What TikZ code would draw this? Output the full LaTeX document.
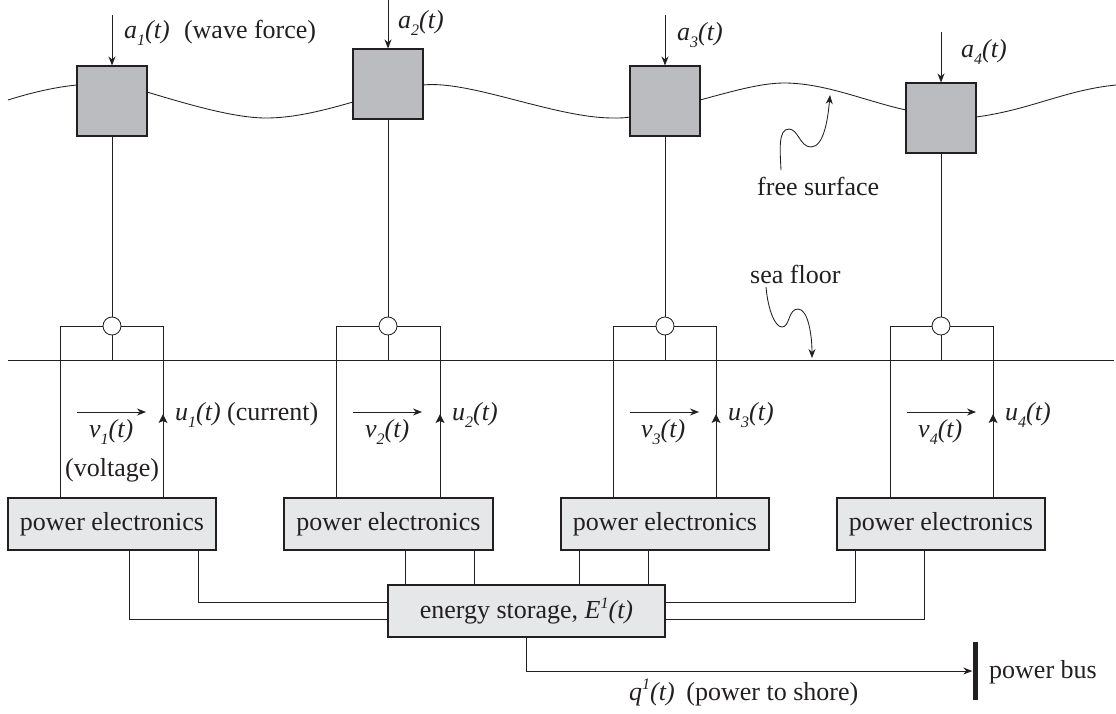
\documentclass[tikz,border=0pt]{standalone}
\usepackage{fontspec}
\setmainfont{Liberation Serif}
\usetikzlibrary{arrows.meta}
\definecolor{ink}{HTML}{231F20}
\definecolor{floatgray}{HTML}{BBBCC0}
\definecolor{panelgray}{HTML}{E6E7E8}
\newcommand{\dn}[1]{\raisebox{-0.28em}{\fontsize{16}{16}\selectfont\itshape #1}}
\newcommand{\up}[1]{\raisebox{0.42em}{\fontsize{16}{16}\selectfont\itshape #1}}
\tikzset{
  line/.style={draw=ink,line width=0.85pt},
  tip/.style={-{Stealth[length=9pt,width=7pt]}},
  floatbox/.style={draw=ink,line width=1.1pt,fill=floatgray,minimum width=70pt,minimum height=70pt,inner sep=0pt},
  panel/.style={draw=ink,line width=1.1pt,fill=panelgray,minimum height=52pt,inner sep=0pt,font=\fontsize{26}{28}\selectfont,text=ink},
  joint/.style={circle,draw=ink,line width=0.85pt,fill=white,minimum size=18pt,inner sep=0pt},
  lab/.style={font=\fontsize{26}{28}\selectfont,text=ink,inner sep=0pt,anchor=base west},
}
\begin{document}
\begin{tikzpicture}[x=1pt,y=-1pt]
\useasboundingbox (0,0) rectangle (1116,713);
% wave
\draw[line] (8,100) .. controls (30,93) and (55,87) .. (77,85);
\draw[line] (147,92) .. controls (190,105) and (235,118) .. (266,118) .. controls (295,118) and (325,110) .. (353,102);
\draw[line] (423,85) .. controls (470,80) and (555,118) .. (613,118) .. controls (620,118) and (625,118) .. (630,117);
\draw[line] (700,100) .. controls (730,92) and (760,83) .. (784,83) .. controls (825,83) and (865,101) .. (906,110);
\draw[line] (976,117) .. controls (1030,110) and (1065,90) .. (1116,85);
% floats
\node[floatbox] (f1) at (112,101) {};
\node[floatbox] (f2) at (388,84) {};
\node[floatbox] (f3) at (665,101) {};
\node[floatbox] (f4) at (941,118) {};
% force sources
\coordinate (a1) at (112,15);
\coordinate (a2) at (388,0);
\coordinate (a3) at (665,15);
\coordinate (a4) at (941,32);
\foreach \i in {1,2,3,4} \draw[line,tip] (a\i) -- (f\i.north);
% sea floor
\coordinate (sL) at (8,360);
\coordinate (sR) at (1114,360);
\draw[line] (sL) -- (sR);
% power electronics + joints
\node[panel,minimum width=208pt] (p1) at (112,524) {power electronics};
\node[panel,minimum width=209pt] (p2) at (388.5,524) {power electronics};
\node[panel,minimum width=208pt] (p3) at (665,524) {power electronics};
\node[panel,minimum width=208pt] (p4) at (941,524) {power electronics};
\node[panel,minimum width=277pt] (es) at (526.5,611) {energy storage, \textit{E}\up{1}\textit{(t)}};
\foreach \i/\xa/\xb/\xc in {1/60/163/112,2/336/440/388,3/613/716/665,4/890/993/941}{
  \node[joint] (j\i) at (\xc,326) {};
  \coordinate (ja\i) at (\xa,326);
  \coordinate (jb\i) at (\xb,326);
  \coordinate (sf\i) at (\xc,360);
  \draw[line] (f\i.south) -- (j\i.north);
  \draw[line] (j\i.south) -- (sf\i);
  \draw[line] (j\i.west) -- (ja\i) -- (ja\i |- p\i.north);
  \draw[line] (j\i.east) -- (jb\i) -- (jb\i |- p\i.north);
  % current arrowhead
  \fill[white] (\xb-4,408) rectangle (\xb+4,416);
  \draw[line] (\xb,405) -- (\xb,420);
  \fill[ink] (\xb,414) -- (\xb+4.5,423) -- (\xb,421) -- (\xb-4.5,423) -- cycle;
  % voltage arrow
  \coordinate (va\i) at (\xa+17,412);
  \coordinate (vb\i) at (\xa+86,412);
  \draw[line,tip] (va\i) -- (vb\i);
}
% storage links
\coordinate (l1) at (129,619); \coordinate (l2) at (198,602);
\coordinate (r1) at (855,602); \coordinate (r2) at (924,619);
\draw[line] (l1 |- p1.south) -- (l1) -- (l1 -| es.west);
\draw[line] (l2 |- p1.south) -- (l2) -- (l2 -| es.west);
\draw[line] (r1 |- p4.south) -- (r1) -- (r1 -| es.east);
\draw[line] (r2 |- p4.south) -- (r2) -- (r2 -| es.east);
\foreach \x in {405,474} \draw[line] (\x,550) -- (\x,585);
\foreach \x in {579,648} \draw[line] (\x,550) -- (\x,585);
% power bus
\node[minimum width=5pt,minimum height=58pt,inner sep=0pt,fill=ink] (bus) at (975,671) {};
\coordinate (qc) at (es.south |- bus.west);
\draw[line,tip] (es.south) -- (qc) -- (bus.west);
% callouts
\coordinate (fs0) at (781,170); \coordinate (fs1) at (830,95);
\draw[line,tip] (fs0) .. controls (780,150) and (778,129) .. (789,129) .. controls (798,129) and (800,147) .. (811,147) .. controls (824,147) and (828,118) .. (fs1);
\coordinate (sf0) at (766,287); \coordinate (sf9) at (812,358);
\draw[line,tip] (sf0) .. controls (768,310) and (775,327) .. (782,327) .. controls (790,327) and (788,309) .. (798,309) .. controls (808,309) and (812,335) .. (sf9);
% labels
\node[lab] (ta1) at (124,38) {\textit{a}\dn{1}\textit{(t)}\hspace{0.55em}(wave force)};
\node[lab] (ta2) at (398,28) {\textit{a}\dn{2}\textit{(t)}};
\node[lab] (ta3) at (677,40) {\textit{a}\dn{3}\textit{(t)}};
\node[lab] (ta4) at (961,57) {\textit{a}\dn{4}\textit{(t)}};
\node[lab] (tu1) at (175,420) {\textit{u}\dn{1}\textit{(t)} (current)};
\node[lab] (tu2) at (452,420) {\textit{u}\dn{2}\textit{(t)}};
\node[lab] (tu3) at (728,420) {\textit{u}\dn{3}\textit{(t)}};
\node[lab] (tu4) at (1005,420) {\textit{u}\dn{4}\textit{(t)}};
\node[lab] (tv1) at (89,437) {\textit{v}\dn{1}\textit{(t)}};
\node[lab] (tv2) at (365,437) {\textit{v}\dn{2}\textit{(t)}};
\node[lab] (tv3) at (641,437) {\textit{v}\dn{3}\textit{(t)}};
\node[lab] (tv4) at (918,437) {\textit{v}\dn{4}\textit{(t)}};
\node[lab] (tvolt) at (65,476) {(voltage)};
\node[lab] (tfree) at (757,195) {free surface};
\node[lab] (tsea) at (750,283) {sea floor};
\node[lab] (tq) at (629,700) {\textit{q}\up{1}\textit{(t)}\hspace{0.45em}(power to shore)};
\node[lab] (tbus) at (989,678) {power bus};
\end{tikzpicture}
\end{document}
